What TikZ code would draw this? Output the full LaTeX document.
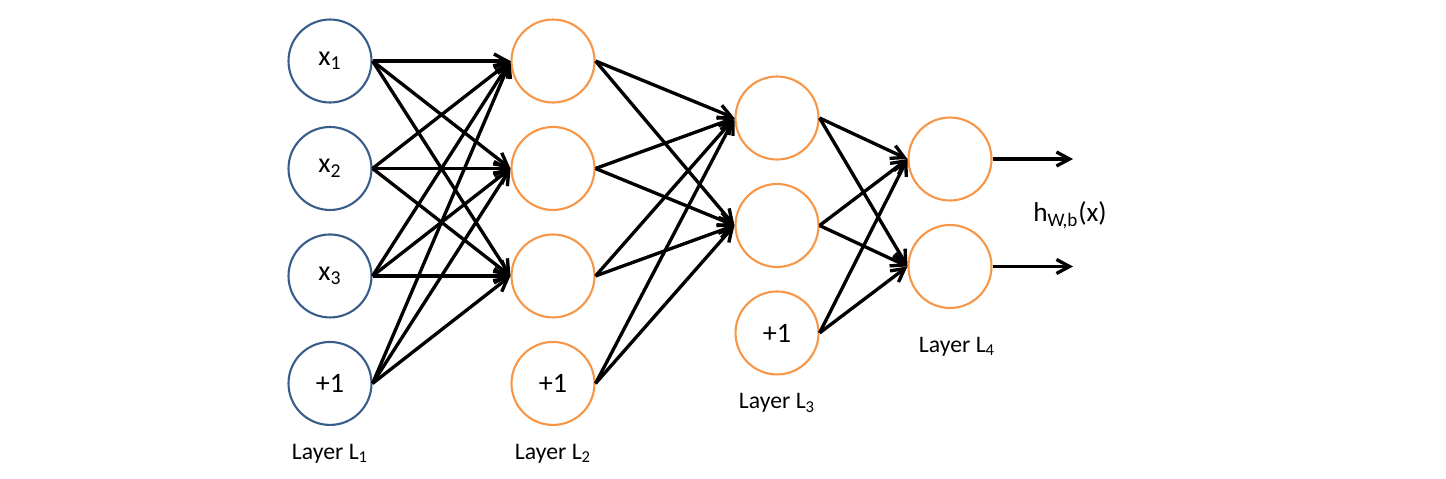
\documentclass[tikz,border=0pt]{standalone}
\usepackage{fontspec}
\setmainfont{Carlito}
\usetikzlibrary{positioning,arrows.meta}
\definecolor{inblue}{RGB}{56,93,138}
\definecolor{unitorange}{RGB}{247,150,70}

\begin{document}
\begin{tikzpicture}[x=0.02cm, y=-0.02cm, node distance={21.5mm}, on grid,
        font=\fontsize{13.5}{16}\selectfont,
        input/.style = {draw=inblue, circle, line width=1.2pt, minimum size=16.6mm, inner sep=0pt, font=\fontsize{16}{18}\selectfont},
        unit/.style = {draw=unitorange, circle, line width=1.2pt, minimum size=16.6mm, inner sep=0pt, font=\fontsize{16}{18}\selectfont},
        edge/.style = {line width=1.9pt, -{Straight Barb[length=2.6mm, width=2.8mm]}}]
        \useasboundingbox (0,0) rectangle (1446,478);

        % layer 1
        \node[input] (x1) at (330,61) {x\textsubscript{1}};
        \node[input] (x2) [below=of x1] {x\textsubscript{2}};
        \node[input] (x3) [below=of x2] {x\textsubscript{3}};
        \node[input] (b1) [below=of x3] {+1};
        \node (L1) [below=14mm of b1] {Layer L\textsubscript{1}};

        % layer 2
        \node[unit] (a1) at (553,61) {};
        \node[unit] (a2) [below=of a1] {};
        \node[unit] (a3) [below=of a2] {};
        \node[unit] (b2) [below=of a3] {+1};
        \node (L2) [below=14mm of b2] {Layer L\textsubscript{2}};

        % layer 3
        \node[unit] (c1) at (777,118) {};
        \node[unit] (c2) [below=of c1] {};
        \node[unit] (b3) [below=of c2] {+1};
        \node (L3) [below=14mm of b3] {Layer L\textsubscript{3}};

        % layer 4
        \node[unit] (o1) at (950,159) {};
        \node[unit] (o2) [below=of o1] {};
        \node (L4) [below=16mm of o2, xshift=1.4mm] {Layer L\textsubscript{4}};

        \coordinate[right=24.6mm of o1] (h1);
        \coordinate[right=24.6mm of o2] (h2);
        \node[font=\fontsize{15.5}{18}\selectfont] (hx) at (1070,215) {h\textsubscript{W,b}(x)};

        \draw[edge] (x1.east) -- (a1.west);
        \draw[edge] (x1.east) -- (a2.west);
        \draw[edge] (x1.east) -- (a3.west);
        \draw[edge] (x2.east) -- (a1.west);
        \draw[edge] (x2.east) -- (a2.west);
        \draw[edge] (x2.east) -- (a3.west);
        \draw[edge] (x3.east) -- (a1.west);
        \draw[edge] (x3.east) -- (a2.west);
        \draw[edge] (x3.east) -- (a3.west);
        \draw[edge] (b1.east) -- (a1.west);
        \draw[edge] (b1.east) -- (a2.west);
        \draw[edge] (b1.east) -- (a3.west);

        \draw[edge] (a1.east) -- (c1.west);
        \draw[edge] (a1.east) -- (c2.west);
        \draw[edge] (a2.east) -- (c1.west);
        \draw[edge] (a2.east) -- (c2.west);
        \draw[edge] (a3.east) -- (c1.west);
        \draw[edge] (a3.east) -- (c2.west);
        \draw[edge] (b2.east) -- (c1.west);
        \draw[edge] (b2.east) -- (c2.west);

        \draw[edge] (c1.east) -- (o1.west);
        \draw[edge] (c1.east) -- (o2.west);
        \draw[edge] (c2.east) -- (o1.west);
        \draw[edge] (c2.east) -- (o2.west);
        \draw[edge] (b3.east) -- (o1.west);
        \draw[edge] (b3.east) -- (o2.west);

        \draw[edge] (o1.east) -- (h1);
        \draw[edge] (o2.east) -- (h2);
    \end{tikzpicture}
\end{document}
